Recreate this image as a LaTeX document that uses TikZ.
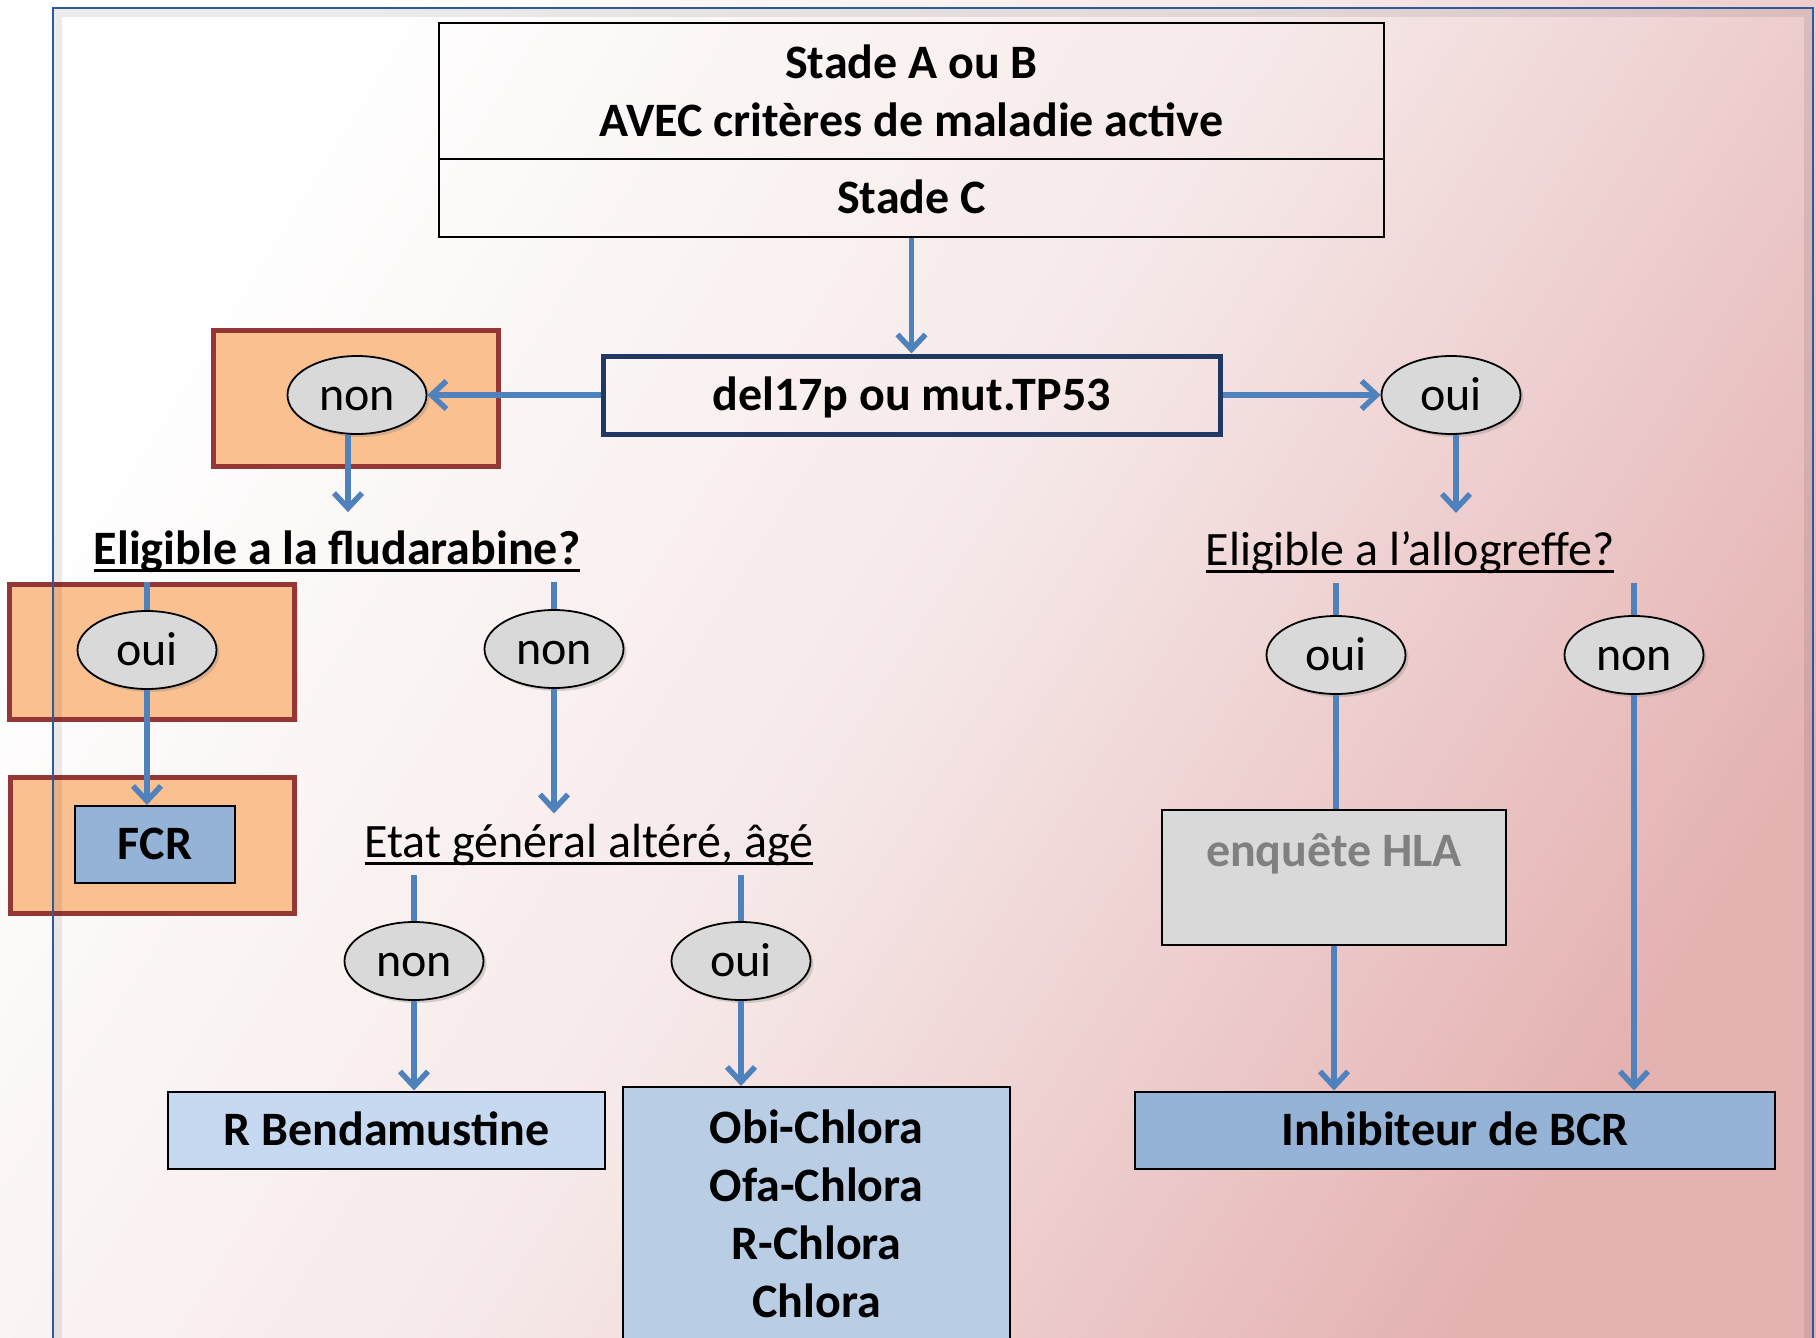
\documentclass[tikz,border=0pt]{standalone}
\usepackage{fontspec}
\setmainfont{Carlito}
\usetikzlibrary{shapes.geometric,arrows.meta,shadows}

\definecolor{linkblue}{HTML}{4F81BD}
\definecolor{frameblue}{HTML}{2C5A9A}
\definecolor{navyline}{HTML}{1F3864}
\definecolor{hifill}{HTML}{FAC090}
\definecolor{hiline}{HTML}{953735}
\definecolor{ovalfill}{HTML}{D9D9D9}
\definecolor{paleblue}{HTML}{C6D9F1}
\definecolor{softblue}{HTML}{B9CDE5}
\definecolor{midblue}{HTML}{95B3D7}
\definecolor{hlatext}{HTML}{808080}
\definecolor{bgmid}{HTML}{F6E8E8}
\definecolor{bgend}{HTML}{E5B2B2}

\newcommand{\bigtxt}{\fontsize{48}{58}\selectfont}
\newcommand{\undl}[1]{\setbox0\hbox{#1}\rlap{\rule[-8pt]{\wd0}{3pt}}\box0}

\tikzset{
  arr/.style={draw=linkblue, line width=5.5pt, -{Straight Barb[length=15pt,width=28pt]}},
  link/.style={draw=linkblue, line width=5.5pt},
  oval/.style={ellipse, draw, line width=1.8pt, fill=ovalfill, minimum width=139pt,
    minimum height=78pt, inner sep=0pt, font=\bigtxt, text height=30pt, text depth=0pt,
    drop shadow={shadow xshift=3pt, shadow yshift=-3pt, opacity=.3}},
  hibox/.style={draw=hiline, line width=5pt, fill=hifill, inner sep=0pt,
    drop shadow={shadow xshift=3pt, shadow yshift=-3pt, opacity=.25}},
  framebox/.style={draw, line width=2pt, inner sep=0pt, font=\bigtxt\bfseries},
  plainbox/.style={framebox, text height=30pt, text depth=0pt},
  question/.style={anchor=base, inner sep=10pt, font=\bigtxt},
}

\begin{document}
\begin{tikzpicture}[x=1pt,y=-1pt]
\useasboundingbox (0,0) rectangle (1816,1338);
\shade[top color=white, bottom color=bgend, middle color=bgmid, shading angle=58] (0,0) rectangle (1816,1338);

\node[hibox, minimum width=285pt, minimum height=136pt] (hiA) at (355.5,398) {};
\node[hibox, minimum width=285pt, minimum height=135pt] (hiB) at (152,651.5) {};
\node[hibox, minimum width=284pt, minimum height=136pt] (hiC) at (152,845) {};

\node[framebox, minimum width=945pt, minimum height=136pt, align=center] (stadeab) at (911.5,91) {Stade A ou B\\AVEC critères de maladie active};
\node[plainbox, minimum width=945pt, minimum height=78pt] (stadec) at (911.5,198) {Stade C};
\node[plainbox, draw=navyline, line width=5pt, minimum width=617pt, minimum height=78pt] (del17p) at (911.5,395) {del17p ou mut.TP53};
\node[oval] (nonA) at (357,395) {non};
\node[oval] (ouiA) at (1451,395) {oui};

\node[question, font=\bigtxt\bfseries] (fluda) at (337,564) {\undl{Eligible a la fludarabine?}};
\node[question] (allo) at (1410,565) {\undl{Eligible a l’allogreffe?}};
\node[oval] (ouiB) at (147,650) {oui};
\node[oval] (nonB) at (554,649) {non};
\node[plainbox, fill=midblue, minimum width=160pt, minimum height=77pt] (fcr) at (155,844.5) {FCR};

\node[question] (etat) at (589,857) {\undl{Etat général altéré, âgé}};
\node[oval] (nonC) at (414,961) {non};
\node[oval] (ouiC) at (741,961) {oui};
\node[plainbox, fill=paleblue, minimum width=437pt, minimum height=77pt] (rbend) at (386.5,1130) {R Bendamustine};
\node[framebox, fill=softblue, anchor=north, minimum width=387pt, inner ysep=23pt, align=center] (obi) at (816.5,1086) {Obi-Chlora\\Ofa-Chlora\\R-Chlora\\Chlora\rule[-40pt]{0pt}{0pt}};

\node[oval] (ouiD) at (1336,655) {oui};
\node[oval] (nonD) at (1634,655) {non};
\node[plainbox, fill=ovalfill, text=hlatext, minimum width=344pt, minimum height=135pt, text depth=53pt] (hla) at (1334,877.5) {enquête HLA};
\node[plainbox, fill=midblue, minimum width=640pt, minimum height=77pt] (inhib) at (1455,1130) {Inhibiteur de BCR};

\draw[arr] (stadec) -- (del17p);
\draw[arr] (del17p) -- (nonA);
\draw[arr] (del17p) -- (ouiA);
\draw[arr] ([xshift=-9pt]nonA.south) -- ([xshift=-9pt,yshift=8pt]nonA.south |- fluda.north);
\draw[arr] ([xshift=5pt]ouiA.south) -- ([xshift=5pt,yshift=8pt]ouiA.south |- allo.north);

\draw[link] (fluda.south -| ouiB) -- (ouiB);
\draw[arr] (ouiB) -- (ouiB |- fcr.north);
\draw[link] (fluda.south -| nonB) -- (nonB);
\draw[arr] (nonB) -- (nonB |- etat.north);
\draw[link] (etat.south -| nonC) -- (nonC);
\draw[arr] (nonC) -- (nonC |- rbend.north);
\draw[link] (etat.south -| ouiC) -- (ouiC);
\draw[arr] (ouiC) -- (ouiC |- obi.north);

\draw[link] (allo.south -| ouiD) -- (ouiD);
\draw[link] (ouiD) -- (ouiD |- hla.north);
\draw[arr] (hla) -- (hla |- inhib.north);
\draw[link] (allo.south -| nonD) -- (nonD);
\draw[arr] (nonD) -- (nonD |- inhib.north);

%\draw (0,0) grid (1816,1338);
\draw[black, opacity=.08, line width=8pt] (58,1338) -- (58,13) -- (1808,13) -- (1808,1338);
\draw[frameblue, line width=2.5pt] (53,1345) -- (53,8) -- (1813,8) -- (1813,1345);
\end{tikzpicture}
\end{document}
